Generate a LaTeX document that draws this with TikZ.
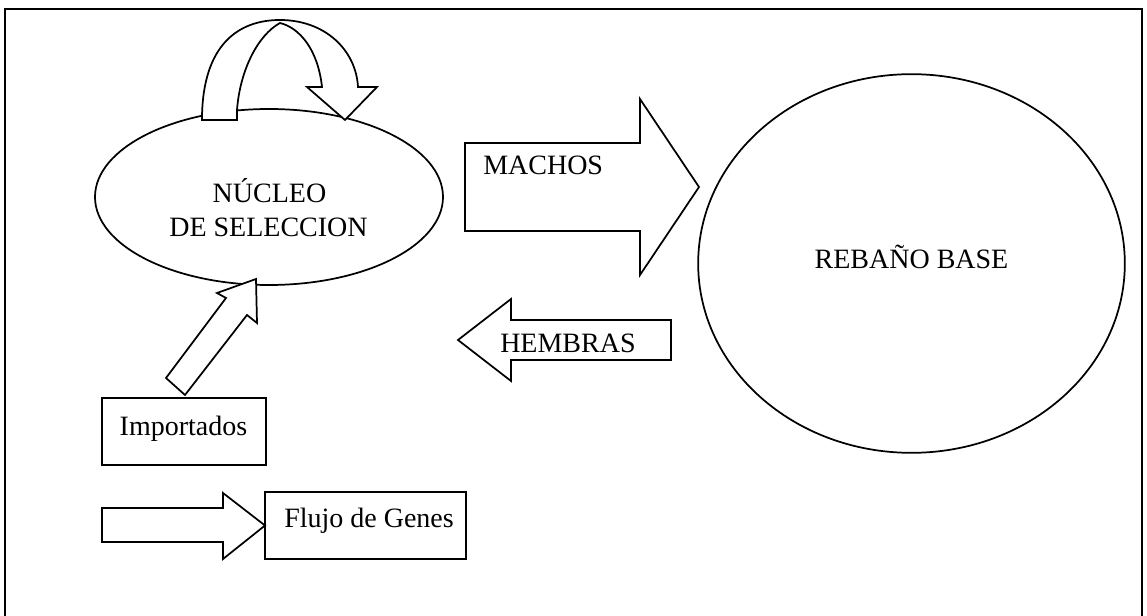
\documentclass[tikz,border=0pt]{standalone}
\usepackage{fontspec}
\setmainfont{Liberation Serif}
\usetikzlibrary{shapes.geometric}
\begin{document}
\begin{tikzpicture}[x=0.75pt,y=-0.75pt,line join=miter,
  outline/.style={draw=black,line width=1.3pt},
  blockarrow/.style={outline,fill=white},
  txt/.style={font=\fontsize{21}{25}\selectfont,inner sep=0pt,anchor=base},
  txtw/.style={txt,anchor=base west},
  oval/.style={outline,ellipse,inner sep=0pt},
  tagbox/.style={outline,rectangle,inner sep=0pt,
    font=\fontsize{21}{25}\selectfont}]
\useasboundingbox (0,0) rectangle (1147,616);

% page frame (open at the bottom)
\draw[line width=1.3pt] (5,616) -- (5,9) -- (1142,9) -- (1142,616);

% selection nucleus and base herd
\node[oval,minimum width=261pt,minimum height=132pt] (nucleo) at (269,197) {};
\node[txt] (nucA) at (269.5,203) {NÚCLEO};
\node[txt] (nucB) at (268.5,237) {DE SELECCION};

\node[oval,minimum width=320pt,minimum height=284pt] (rebano) at (911.5,263.5) {};
\node[txt] (rebT) at (911.5,269) {REBAÑO BASE};

% self-renewal curved arrow on top of the nucleus
\filldraw[blockarrow]
  (202,120) -- (202,117)
  .. controls (203,45) and (238,20) .. (280,20)
  .. controls (325,20) and (356,50) .. (358,87)
  -- (377,87) -- (345,120) -- (307,87) -- (322,87)
  .. controls (318,50) and (300,28) .. (280,23)
  .. controls (258,35) and (240,70) .. (237,110)
  -- (237,120) -- cycle;

% males: nucleus -> base herd
\filldraw[blockarrow]
  (465,143) -- (640,143) -- (640,99) -- (699,187) -- (640,275)
  -- (640,231) -- (465,231) -- cycle;
\node[txtw] (machos) at (483,175) {MACHOS};

% females: base herd -> nucleus
\filldraw[blockarrow]
  (671,320) -- (511,320) -- (511,299) -- (458,340) -- (511,381)
  -- (511,360) -- (671,360) -- cycle;
\node[txtw] (hembras) at (500,353) {HEMBRAS};

% imported animals
\node[tagbox,minimum width=123pt,minimum height=50.25pt] (imp) at (184,431.5) {};
\node[txt] (impT) at (183.5,436) {Importados};
\filldraw[blockarrow]
  (166,378) -- (226,298) -- (217,293) -- (256,279) -- (257,323)
  -- (247,315) -- (185,395) -- cycle;

% legend
\filldraw[blockarrow]
  (102,508) -- (223,508) -- (223,493) -- (265,525.5) -- (223,559)
  -- (223,542) -- (102,542) -- cycle;
\node[tagbox,minimum width=150.75pt,minimum height=50.25pt] (flujo) at (365.5,525.5) {};
\node[txtw] (flujoT) at (284,528) {Flujo de Genes};
\end{tikzpicture}
\end{document}
